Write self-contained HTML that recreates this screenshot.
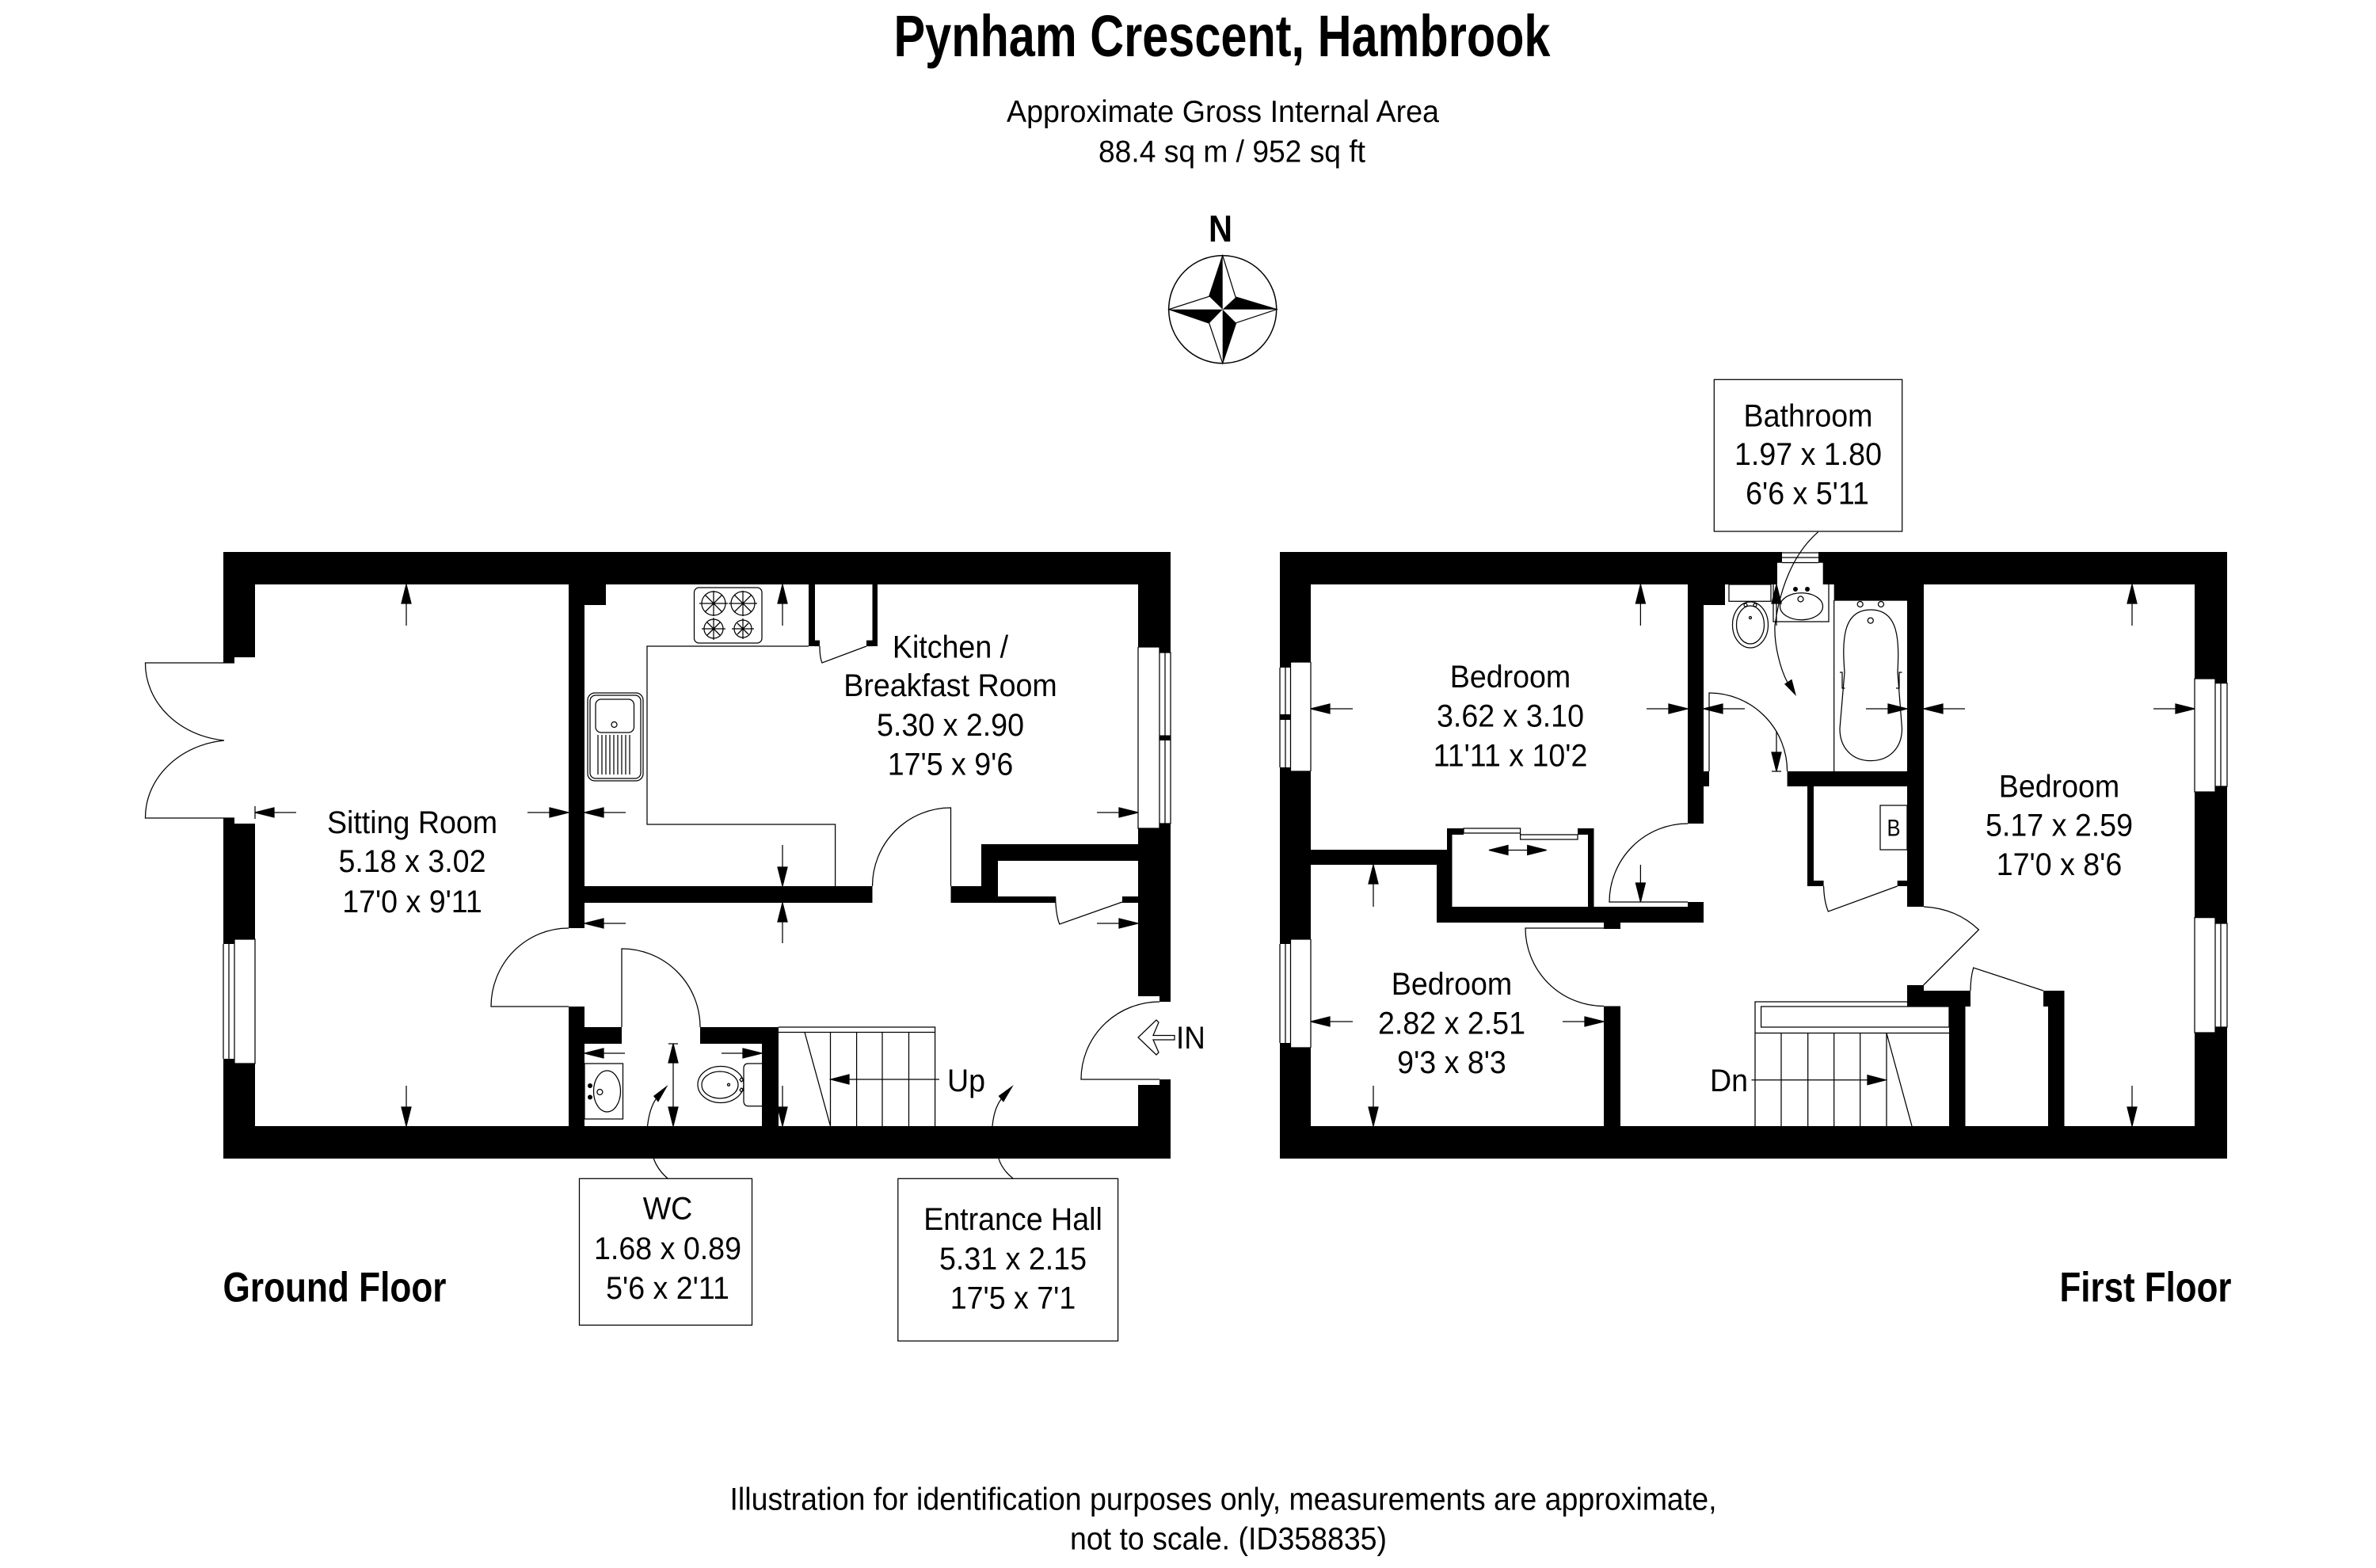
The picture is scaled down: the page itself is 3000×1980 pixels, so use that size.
<!DOCTYPE html>
<html><head><meta charset="utf-8"><title>Pynham Crescent, Hambrook</title>
<style>
html,body{margin:0;padding:0;background:#fff}
svg{display:block}
text{font-family:"Liberation Sans",Arial,sans-serif;fill:#000}
.l{font-size:40px;text-anchor:middle}
.ln{fill:none;stroke:#000;stroke-width:1.25}
.ar{fill:#000;stroke:#000;stroke-width:1.25}
</style></head><body>
<svg width="3000" height="1980" viewBox="0 0 3000 1980" xmlns="http://www.w3.org/2000/svg">
<rect width="3000" height="1980" fill="#fff"/>

<!-- Headings -->
<text x="1128.5" y="71" font-size="74" font-weight="bold" textLength="829" lengthAdjust="spacingAndGlyphs">Pynham Crescent, Hambrook</text>
<text x="1271" y="154" font-size="39" textLength="546" lengthAdjust="spacingAndGlyphs">Approximate Gross Internal Area</text>
<text x="1387" y="204.7" font-size="39" textLength="337" lengthAdjust="spacingAndGlyphs">88.4 sq m / 952 sq ft</text>
<text x="1526" y="305" font-size="47" font-weight="bold" textLength="30" lengthAdjust="spacingAndGlyphs">N</text>

<!-- Compass -->
<circle cx="1543.7" cy="390.7" r="68" fill="none" stroke="#000" stroke-width="1.5"/>
<path class="ln" d="M1543.7 322.7L1560 375L1612 390.7L1560.7 407.7L1543.7 458.7L1526.7 408L1476 390.7L1526.7 374.3Z"/>
<path d="M1543.7 322.7L1526.7 374.3L1543.7 390.7ZM1611.7 390.7L1560.7 375L1543.7 390.7ZM1543.7 458.7L1560.7 407.7L1543.7 390.7ZM1476 390.7L1526.7 408.3L1543.7 390.7Z"/>

<!-- GROUND FLOOR WALLS -->
<g fill="#000">
<rect x="282" y="697" width="1196" height="41"/>
<rect x="282" y="1422" width="1196" height="41"/>
<rect x="282" y="697" width="40" height="133"/>
<rect x="282" y="697" width="14" height="140"/>
<rect x="296" y="1040" width="26" height="146"/>
<rect x="282" y="1033" width="14" height="159"/>
<rect x="296" y="1343" width="26" height="80"/>
<rect x="282" y="1337" width="14" height="86"/>
<rect x="1437" y="697" width="41" height="120"/>
<rect x="1464" y="697" width="14" height="127"/>
<rect x="1464" y="928.5" width="14" height="6.5"/>
<rect x="1437" y="1046" width="27" height="212"/>
<rect x="1464" y="1040" width="14" height="225"/>
<rect x="1437" y="1370" width="27" height="53"/>
<rect x="1464" y="1363" width="14" height="60"/>
<rect x="718" y="697" width="20" height="475"/>
<rect x="738" y="738" width="27" height="26"/>
<rect x="718" y="1271" width="20" height="152"/>
<rect x="738" y="1119" width="363.5" height="21"/>
<rect x="1200.5" y="1119" width="59.5" height="21"/>
<rect x="1239" y="1066" width="21" height="74"/>
<rect x="1239" y="1066" width="198" height="21"/>
<rect x="1260" y="1132" width="73" height="8"/>
<rect x="1417" y="1132" width="20" height="8"/>
<rect x="1021" y="738" width="8" height="78"/>
<rect x="1029" y="808.6" width="6" height="7.5"/>
<rect x="1101.5" y="738" width="6.5" height="78"/>
<rect x="1094" y="808.6" width="7.5" height="7.5"/>
<rect x="738" y="1297" width="47" height="21"/>
<rect x="884" y="1297" width="99" height="21"/>
<rect x="962" y="1297" width="21" height="126"/>
</g>

<!-- Ground floor linework -->
<g class="ln">
<path d="M296 837H183.5A112 98 0 0 0 283 935M296 1033H183.5A112 98 0 0 1 283 935"/>
<path d="M282 1192V1337M289 1192V1337M296 1186V1343H322V1186H296"/>
<path d="M1437 817H1464V1046H1437V817M1464 824H1478V1040H1464M1471 824V928.5M1471 935V1040"/>
<path d="M718 1271H620A98 99 0 0 1 718 1172"/>
<path d="M785 1297V1198A99 99 0 0 1 884 1297"/>
<path d="M1200.5 1119V1020A99 99 0 0 0 1101.5 1119"/>
<path d="M1464 1363H1365A99 98 0 0 1 1464 1265"/>
<path d="M1035 816Q1035 830 1038 837L1094 816"/>
<path d="M1332.6 1132Q1333 1155 1337.8 1167L1417 1139"/>
<path d="M1021 816H817V1041H1054.6V1119"/>
<!-- hob -->
<rect x="876.5" y="742" width="85.5" height="70" rx="6"/>
<circle cx="901" cy="762" r="15"/><circle cx="938" cy="762" r="15"/>
<circle cx="901" cy="794" r="12"/><circle cx="938" cy="794" r="11"/>
<path d="M883 762H919M901 746V778M920 762H956M938 746V778M886 794H916M901 780V808M924 794H952M938 781V807"/>
<path d="M890 751L912 773M912 751L890 773M927 751L949 773M949 751L927 773M893 786L909 802M909 786L893 802M931 787L945 801M945 787L931 801"/>
<!-- sink -->
<rect x="742" y="875" width="70" height="111" rx="9"/>
<rect x="745" y="878" width="64" height="105" rx="7"/>
<rect x="752" y="883" width="48.5" height="42" rx="7"/>
<circle cx="775.5" cy="915" r="3.5"/>
<path d="M755 928V978M760 928V978M765 928V978M770 928V978M775 928V978M780 928V978M785 928V978M790 928V978M795 928V978"/>
<!-- WC room fittings -->
<rect x="738" y="1343" width="48.5" height="70"/>
<ellipse cx="766.5" cy="1378" rx="17" ry="26"/>
<circle cx="757.4" cy="1379" r="3.5"/>
<path d="M962 1343H945Q939 1343 939 1349V1390Q939 1396.7 945 1396.7H962"/>
<ellipse cx="910" cy="1369.5" rx="29" ry="23"/>
<ellipse cx="909" cy="1370" rx="23" ry="17"/>
<circle cx="920" cy="1369.7" r="1.5"/>
<path d="M936 1361L939 1363.5L936 1366L934 1363.5ZM936 1374L939 1376.5L936 1379L934 1376.5Z"/>
<!-- stairs -->
<path d="M983 1297H1180.6V1422M983 1303.5H1180.6M1048.5 1303.5V1422M1081.6 1303.5V1422M1114 1303.5V1422M1147.5 1303.5V1422M1016 1303.5L1048.5 1422"/>
<!-- IN arrow -->
<path d="M1483 1307.5H1456L1463 1291L1460 1288L1437 1310L1460 1332L1463 1329L1456 1313H1483Z"/>
<!-- leaders -->
<path d="M817.5 1422Q820 1400 828 1388M825 1462Q830 1477 843 1488M1253 1422Q1255 1400 1264 1388M1260.6 1462Q1265 1477 1279 1488"/>
</g>
<circle cx="745" cy="1371" r="3"/><circle cx="745" cy="1385.5" r="3"/>
<path d="M843.5 1370L825 1384L831 1391.7ZM1279.8 1370L1260.6 1384L1267 1391.7Z"/>

<!-- Ground floor arrows -->
<g class="ar">
<path d="M513 790V738M507 762L513 738L519 762Z"/>
<path d="M513 1371V1422M507 1398L513 1422L519 1398Z"/>
<path d="M374 1026H322M346 1020L322 1026L346 1032ZM322 1018V1034"/>
<path d="M666 1026H718M694 1020L718 1026L694 1032Z"/>
<path d="M790 1026H738M762 1020L738 1026L762 1032Z"/>
<path d="M1385 1026H1437M1413 1020L1437 1026L1413 1032Z"/>
<path d="M988 790V738M982 762L988 738L994 762Z"/>
<path d="M988 1067V1119M982 1095L988 1119L994 1095Z"/>
<path d="M988 1191V1140M982 1164L988 1140L994 1164Z"/>
<path d="M790 1166H738M762 1160L738 1166L762 1172Z"/>
<path d="M1385 1166H1437M1413 1160L1437 1166L1413 1172Z"/>
<path d="M988 1371V1422M982 1398L988 1422L994 1398Z"/>
<path d="M850 1318V1422M844 1342L850 1318L856 1342ZM844 1398L850 1422L856 1398ZM844 1318H856"/>
<path d="M789 1330H738M762 1324L738 1330L762 1336Z"/>
<path d="M911 1330H962M938 1324L962 1330L938 1336Z"/>
<path d="M1186 1363H1049M1072 1357L1049 1363L1072 1369Z"/>
</g>

<!-- Ground floor labels -->
<g class="l">
<text transform="translate(520.5 1052) scale(.94 1)">Sitting Room</text>
<text transform="translate(520.5 1101) scale(.94 1)">5.18 x 3.02</text>
<text transform="translate(520.5 1152) scale(.94 1)">17'0 x 9'11</text>
<text transform="translate(1200 830.5) scale(.94 1)">Kitchen /</text>
<text transform="translate(1200 879) scale(.94 1)">Breakfast Room</text>
<text transform="translate(1200 929) scale(.94 1)">5.30 x 2.90</text>
<text transform="translate(1200 978.5) scale(.94 1)">17'5 x 9'6</text>
</g>
<text transform="translate(1196 1378) scale(.94 1)" font-size="40">Up</text>
<text transform="translate(1485 1324) scale(.92 1)" font-size="40">IN</text>

<!-- Label boxes -->
<g class="ln" stroke-width="1.6">
<rect x="731.5" y="1488.3" width="218" height="185"/>
<rect x="1133.8" y="1488.3" width="277.8" height="205"/>
<rect x="2164.3" y="479.3" width="237.4" height="191.7"/>
</g>
<g class="l">
<text transform="translate(843 1539.5) scale(.94 1)">WC</text>
<text transform="translate(843 1590.2) scale(.94 1)">1.68 x 0.89</text>
<text transform="translate(843 1640) scale(.94 1)">5'6 x 2'11</text>
<text transform="translate(1279 1553) scale(.94 1)">Entrance Hall</text>
<text transform="translate(1279 1603) scale(.94 1)">5.31 x 2.15</text>
<text transform="translate(1279 1652.7) scale(.94 1)">17'5 x 7'1</text>
<text transform="translate(2283 538.3) scale(.94 1)">Bathroom</text>
<text transform="translate(2283 587) scale(.94 1)">1.97 x 1.80</text>
<text transform="translate(2282 636.5) scale(.94 1)">6'6 x 5'11</text>
</g>

<!-- FIRST FLOOR WALLS -->
<g fill="#000">
<rect x="1616" y="697" width="1196" height="41"/>
<rect x="1616" y="1422" width="1196" height="41"/>
<rect x="1616" y="697" width="39" height="139"/>
<rect x="1616" y="697" width="13.5" height="146"/>
<rect x="1616" y="902" width="13.5" height="7"/>
<rect x="1629.5" y="974" width="25.5" height="212"/>
<rect x="1616" y="969" width="13.5" height="223"/>
<rect x="1629.5" y="1323" width="25.5" height="100"/>
<rect x="1616" y="1317" width="13.5" height="106"/>
<rect x="2771" y="697" width="26" height="160"/>
<rect x="2797" y="697" width="15" height="165.6"/>
<rect x="2771" y="1000" width="26" height="158.6"/>
<rect x="2797" y="993" width="15" height="173"/>
<rect x="2771" y="1304" width="26" height="119"/>
<rect x="2797" y="1297" width="15" height="126"/>
<rect x="2131" y="697" width="20" height="343"/>
<rect x="2151" y="738" width="27" height="26"/>
<rect x="2151" y="974" width="7" height="19"/>
<rect x="2131" y="1139" width="20" height="26"/>
<rect x="2315.7" y="738" width="113" height="20"/>
<rect x="2408" y="738" width="21" height="407"/>
<rect x="2256.6" y="974" width="151.4" height="19"/>
<rect x="2282" y="974" width="8" height="145"/>
<rect x="2290" y="1112" width="12.6" height="7"/>
<rect x="2395.7" y="1112" width="12.3" height="7"/>
<rect x="1655" y="1073" width="172.7" height="19"/>
<rect x="1814" y="1073" width="19.5" height="92"/>
<rect x="1827" y="1046" width="6.5" height="99"/>
<rect x="1827" y="1046" width="21" height="8"/>
<rect x="1992" y="1046" width="20.5" height="8"/>
<rect x="2005" y="1046" width="7.5" height="99"/>
<rect x="1814" y="1145" width="337" height="20"/>
<rect x="2025" y="1165" width="21" height="8"/>
<rect x="2025" y="1270.5" width="21" height="152"/>
<rect x="2408" y="1244" width="21" height="8"/>
<rect x="2408" y="1251" width="80" height="20"/>
<rect x="2461" y="1251" width="20.5" height="172"/>
<rect x="2580" y="1251" width="26.5" height="20"/>
<rect x="2586" y="1251" width="20.5" height="172"/>
</g>
<rect x="2244" y="710.7" width="57.7" height="28" fill="#fff"/>
<rect x="2250" y="697" width="46" height="14" fill="#fff"/>

<!-- First floor linework -->
<g class="ln">
<path d="M2250 698H2296M2250 704H2296M2250 710.5H2296"/>
<path d="M1616 843V969M1623 843V902M1623 909V969M1629.5 836V974M1655 836V974M1629.5 836H1655M1629.5 974H1655"/>
<path d="M1616 1192V1317M1623 1192V1317M1629.5 1186V1323M1655 1186V1323M1629.5 1186H1655M1629.5 1323H1655"/>
<path d="M2771 857H2797V1000H2771ZM2797 862.6H2812V993H2797M2804 862.6V993"/>
<path d="M2771 1158.6H2797V1304H2771ZM2797 1166H2812V1297H2797M2804 1166V1297"/>
<path d="M1848 1046H1919.6V1052H1848ZM1919.6 1054H1992V1060H1919.6ZM1919.6 1052V1054"/>
<path d="M2131 1139H2032A99 99 0 0 1 2131 1040"/>
<path d="M2025 1172H1926A99 98.5 0 0 0 2025 1270.5"/>
<path d="M2158 974V875A98.6 99 0 0 1 2256.6 974"/>
<path d="M2429 1145Q2470 1147 2498.4 1174L2428.6 1244"/>
<path d="M2488 1251Q2488 1235 2491.7 1222L2580 1251"/>
<path d="M2302.6 1119Q2303 1138 2308.4 1151L2395.7 1119"/>
<rect x="2374" y="1017" width="34" height="56"/>
<path d="M2315.7 758V974M2315.7 758H2408"/>
<!-- stairs -->
<path d="M2408 1265H2216V1422M2223.6 1271H2461V1297H2223.6ZM2216 1304.5H2461M2249 1304.5V1422M2282.7 1304.5V1422M2315.7 1304.5V1422M2348.7 1304.5V1422M2382 1304.5V1422M2382 1304.5L2414 1422"/>
<!-- bathroom fittings -->
<rect x="2183" y="738" width="53" height="21.3"/>
<path d="M2239 738V785H2309V738"/>
<ellipse cx="2274.5" cy="765.7" rx="27" ry="17"/>
<circle cx="2273.5" cy="756.5" r="3.5"/>
<ellipse cx="2210" cy="789" rx="22.5" ry="29"/>
<ellipse cx="2210" cy="789" rx="17.5" ry="24"/>
<circle cx="2210" cy="780" r="1.5"/>
<circle cx="2204" cy="764" r="2"/><circle cx="2216" cy="764" r="2"/>
<path d="M2329 849C2326 810 2326 770 2362 770C2398 770 2398 810 2396 849L2401.5 920C2401.5 945 2385 960.6 2362 960.6C2339 960.6 2323 945 2323 920Z"/>
<circle cx="2348.7" cy="763" r="3.5"/><circle cx="2375" cy="763" r="3.5"/><circle cx="2361.8" cy="783.6" r="3.5"/>
<path d="M2323 849H2326V869H2329.5M2401.5 849H2398V869H2394"/>
<!-- leader -->
<path d="M2295.7 671.7C2263 700 2247 745 2241 790C2240 815 2248 845 2257 862"/>
</g>
<circle cx="2267" cy="744" r="3"/><circle cx="2282" cy="744" r="3"/>
<path d="M2268 879L2253 863.7L2262.4 857.6Z"/>

<!-- First floor arrows -->
<g class="ar">
<path d="M2071.4 790V738M2065.4 762L2071.4 738L2077.4 762Z"/>
<path d="M2071.4 1092V1139M2065.4 1115L2071.4 1139L2077.4 1115Z"/>
<path d="M1708 895H1655M1679 889L1655 895L1679 901Z"/>
<path d="M2079 895H2131M2107 889L2131 895L2107 901Z"/>
<path d="M1734 1145V1092M1728 1116L1734 1092L1740 1116Z"/>
<path d="M1734 1371V1422M1728 1398L1734 1422L1740 1398Z"/>
<path d="M1708 1290H1655M1679 1284L1655 1290L1679 1296Z"/>
<path d="M1973 1290H2025M2001 1284L2025 1290L2001 1296Z"/>
<path d="M1880 1073.5H1952.7M1904 1067.5L1880 1073.5L1904 1079.5ZM1928.7 1067.5L1952.7 1073.5L1928.7 1079.5Z"/>
<path d="M2243 790V738M2237 762L2243 738L2249 762Z"/>
<path d="M2203 895H2151M2175 889L2151 895L2175 901Z"/>
<path d="M2356 895H2408M2384 889L2408 895L2384 901Z"/>
<path d="M2243 923V974M2237 950L2243 974L2249 950ZM2237 974H2249"/>
<path d="M2692 790V738M2686 762L2692 738L2698 762Z"/>
<path d="M2692 1371V1422M2686 1398L2692 1422L2698 1398Z"/>
<path d="M2481 895H2429M2453 889L2429 895L2453 901Z"/>
<path d="M2719 895H2771M2747 889L2771 895L2747 901Z"/>
<path d="M2211.5 1363.7H2381M2358 1357.7L2381 1363.7L2358 1369.7Z"/>
</g>

<!-- First floor labels -->
<g class="l">
<text transform="translate(1907 868) scale(.94 1)">Bedroom</text>
<text transform="translate(1907 917.6) scale(.94 1)">3.62 x 3.10</text>
<text transform="translate(1907 967.4) scale(.94 1)">11'11 x 10'2</text>
<text transform="translate(1833 1256) scale(.94 1)">Bedroom</text>
<text transform="translate(1833 1305.6) scale(.94 1)">2.82 x 2.51</text>
<text transform="translate(1833 1355) scale(.94 1)">9'3 x 8'3</text>
<text transform="translate(2600 1006.5) scale(.94 1)">Bedroom</text>
<text transform="translate(2600 1055.5) scale(.94 1)">5.17 x 2.59</text>
<text transform="translate(2600 1105) scale(.94 1)">17'0 x 8'6</text>
</g>
<text transform="translate(2159 1378) scale(.94 1)" font-size="40">Dn</text>
<text transform="translate(2391 1055.5) scale(.85 1)" font-size="30" text-anchor="middle">B</text>

<!-- Floor titles -->
<text x="281.5" y="1643.3" font-size="53" font-weight="bold" textLength="282" lengthAdjust="spacingAndGlyphs">Ground Floor</text>
<text x="2600.5" y="1643.3" font-size="53" font-weight="bold" textLength="217" lengthAdjust="spacingAndGlyphs">First Floor</text>

<!-- Footer -->
<text x="921.5" y="1906.7" font-size="40" textLength="1246" lengthAdjust="spacingAndGlyphs">Illustration for identification purposes only, measurements are approximate,</text>
<text x="1351" y="1956.7" font-size="40" textLength="400" lengthAdjust="spacingAndGlyphs">not to scale. (ID358835)</text>
</svg>
</body></html>
